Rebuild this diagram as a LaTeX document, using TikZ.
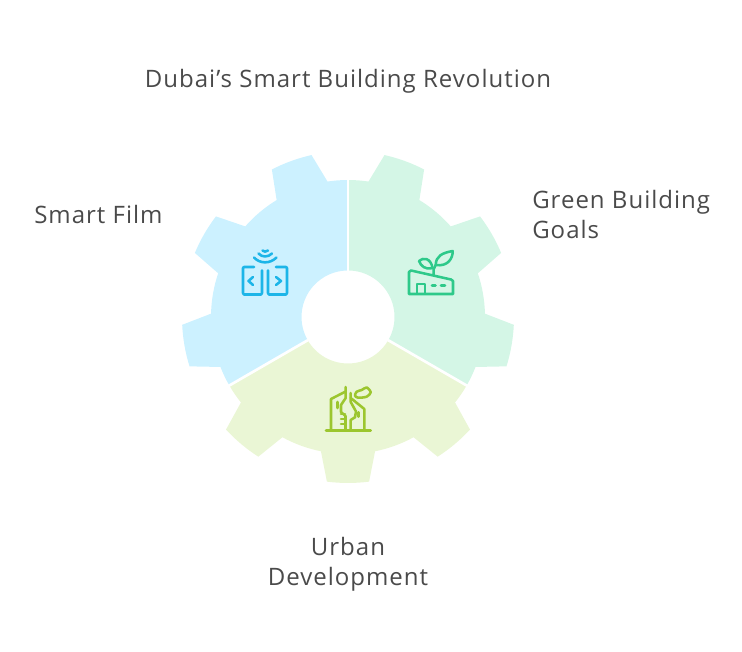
\documentclass[tikz,border=0pt]{standalone}
\usepackage{fontspec}
\setmainfont{Open Sans}[LetterSpace=4.2]
\usepackage{tikz}
\definecolor{filmfill}{HTML}{CCF1FF}
\definecolor{greenfill}{HTML}{D4F6E6}
\definecolor{urbanfill}{HTML}{EAF6D5}
\definecolor{filmline}{HTML}{1CB5E8}
\definecolor{greenline}{HTML}{2EC98A}
\definecolor{urbanline}{HTML}{9CC62F}
\definecolor{labeltext}{HTML}{4A4A4A}
\tikzset{
	labeltxt/.style={text=labeltext, font=\fontsize{18}{22.5}\selectfont, inner sep=0pt},
	icon/.style={line width=1.9pt, line cap=round, line join=round},
	gapline/.style={white, line width=2pt}
}
\newcommand{\geartooth}[1]{
	arc[start angle=#1-20, end angle=#1-11.4, radius=137] -- ({#1-7.3}:166)
	arc[start angle=#1-7.3, end angle=#1+7.3, radius=166] -- ({#1+11.4}:137)
	arc[start angle=#1+11.4, end angle=#1+20, radius=137]
}
\newcommand{\gearsector}[2]{
	\fill[#2] (#1:46.5) -- (#1:137) \geartooth{#1+20} \geartooth{#1+60} \geartooth{#1+100}
	-- ({#1+120}:46.5) arc[start angle=#1+120, end angle=#1, radius=46.5] -- cycle;
}

\begin{document}
\begin{tikzpicture}[x=0.75pt,y=0.75pt]
	\useasboundingbox (0,0) rectangle (742,652);

	\node[labeltxt] (title) at (348, 571) {Dubai's Smart Building Revolution};
	\node[labeltxt, anchor=west] (film) at (34, 437) {Smart Film};
	\node[labeltxt, anchor=west, align=left] (goals) at (532, 437) {Green Building\\Goals};
	\node[labeltxt, align=center] (urban) at (348, 88) {Urban\\Development};

	% gear
	\begin{scope}[shift={(348,335)}]
		\gearsector{90}{filmfill}
		\gearsector{210}{urbanfill}
		\gearsector{330}{greenfill}
		\draw[gapline] (90:46) -- (90:138);
		\draw[gapline] (210:46) -- (210:138);
		\draw[gapline] (330:46) -- (330:138);
	\end{scope}

	% film icon
	\begin{scope}[icon, draw=filmline, shift={(0,652)}, yscale=-1]
		\draw (254,267) -- (244,267) to[out=180,in=90] (243,268) -- (243,293) to[out=-90,in=180] (244,294.5) -- (261,294.5) to[out=0,in=-90] (262,293) -- (262,270.5);
		\draw (276,267) -- (286,267) to[out=0,in=90] (287,268) -- (287,293) to[out=-90,in=0] (286,294.5) -- (269,294.5) to[out=180,in=-90] (268,293) -- (268,270.5);
		\draw (253,277) -- (248.5,281) -- (253,285);
		\draw (276,277) -- (281,281) -- (276,285);
		\draw (254,257.5) .. controls (260,264) and (270,264) .. (276.5,257.5);
		\draw (258.5,253.5) .. controls (262,257.5) and (268,257.5) .. (272,253.5);
		\draw (262.5,250.5) .. controls (264,252) and (266,252) .. (268,250.5);
	\end{scope}

	% green building icon
	\begin{scope}[icon, draw=greenline, shift={(0,652)}, yscale=-1]
		\draw (409,272) -- (409,294) -- (453,294) -- (453,281) -- (451,279.5) -- (411,270.5) -- cycle;
		\draw (417,293.5) -- (417,284) -- (425,284) -- (425,293.5);
		\draw (432,285.7) -- (435.5,285.7);
		\draw (441,285.7) -- (445,285.7);
		\draw (433.5,275) .. controls (433.5,270) and (433.5,267) .. (435.7,265);
		\draw (435.7,265) .. controls (436,256) and (442,253) .. (452.7,251) .. controls (453,258) and (448,267) .. (435.7,265) -- cycle;
		\draw (419,261) .. controls (423,257) and (431,258) .. (432.5,268) .. controls (425,270) and (421,266) .. (419,261) -- cycle;
	\end{scope}

	% urban icon
	\begin{scope}[icon, draw=urbanline, shift={(0,652)}, yscale=-1]
		\draw (326,430.7) -- (370.7,430.7);
		\draw (331,430) -- (331,399) -- (345.7,391.5);
		\draw (345.7,387) -- (345.7,398) -- (341,405) -- (341,412) -- (345.5,416) -- (345.5,430);
		\draw (341,414) -- (345,414);
		\draw (341,419) -- (345,419);
		\draw (341,424) -- (345,424);
		\draw (337.5,402) -- (337.5,408);
		\draw (350.7,393) -- (350.7,402) -- (356,411.5) -- (355,417.3) -- (350.7,420) -- (350.7,430);
		\draw (350.7,398) -- (364.3,409) -- (364.3,430);
		\draw (358.5,412.3) -- (358.5,416.7);
		\draw plot[smooth cycle] coordinates {(355,395.7) (356.7,391.7) (361.7,390) (366.7,387.5) (370.7,392.3) (366.7,396.7) (358.3,397.7)};
	\end{scope}
\end{tikzpicture}
\end{document}
